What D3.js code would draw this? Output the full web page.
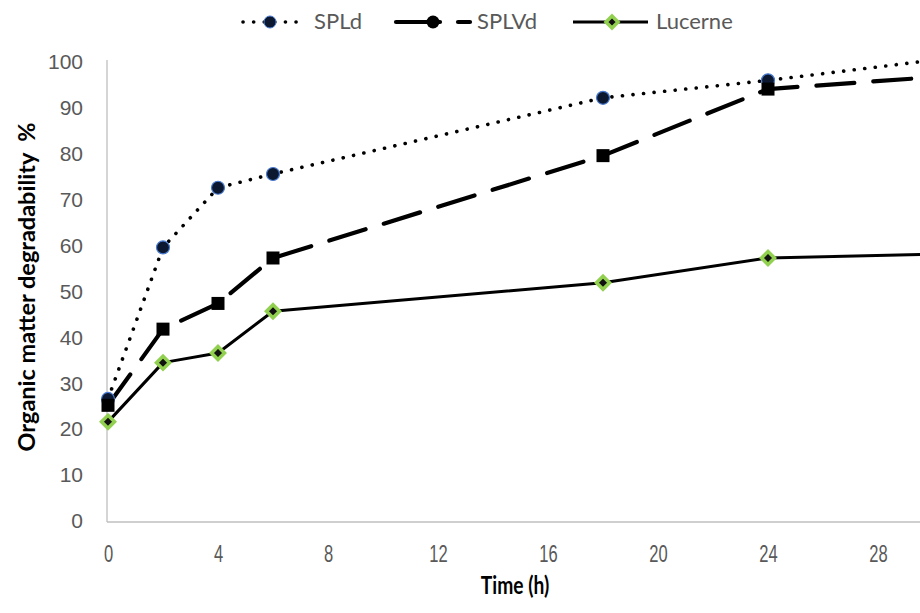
<!DOCTYPE html>
<html>
<head>
<meta charset="utf-8">
<script src="https://cdn.jsdelivr.net/npm/d3@7"></script>
<style>
  body { margin: 0; background: #fff; }
  svg { display: block; font-family: Lato, "Open Sans", sans-serif; }
</style>
</head>
<body>
<script>
// data
const hours = [0, 2, 4, 6, 18, 24, 30]
const spld = [26.6, 59.6, 72.6, 75.6, 92.2, 96.0, 100.4]
const splvd = [25.2, 41.8, 47.4, 57.3, 79.6, 94.1, 96.7]
const lucerne = [21.6, 34.5, 36.6, 45.7, 51.9, 57.3, 58.1]
const xTicks = [0, 4, 8, 12, 16, 20, 24, 28]
const yTicks = [0, 10, 20, 30, 40, 50, 60, 70, 80, 90, 100]

const w = 920, h = 613

const svg = d3.select("body").append("svg")
    .attr("width", w).attr("height", h)

const x = d3.scaleLinear().domain([0, 30]).range([108, 933])
const y = d3.scaleLinear().domain([0, 100]).range([521, 62])

// axes
const xAxis = svg.append("g")
    .attr("transform", "translate(0," + 522 + ")")
    .call(d3.axisBottom(x).tickValues(xTicks).tickSize(0).tickPadding(24))
xAxis.select(".domain").attr("stroke", "#bfbfbf").attr("stroke-width", 1.3)
    .attr("d", "M107,0H920")
xAxis.selectAll("text")
    .attr("fill", "#595959").attr("font-size", 23)
    .attr("transform", "scale(0.72,1)")

const yAxis = svg.append("g")
    .attr("transform", "translate(107,0)")
    .call(d3.axisLeft(y).tickValues(yTicks).tickSize(0).tickPadding(24))
yAxis.select(".domain").attr("stroke", "#bfbfbf").attr("stroke-width", 1.3)
    .attr("d", "M0,60V522")
yAxis.selectAll("text").attr("fill", "#595959").attr("font-size", 21)

// axis titles
svg.append("text")
    .attr("transform", "translate(515,594) scale(0.8,1)")
    .attr("text-anchor", "middle")
    .attr("font-weight", "bold").attr("font-size", 24)
    .text("Time (h)")

svg.append("text")
    .attr("transform", "translate(35,287) rotate(-90)")
    .attr("text-anchor", "middle")
    .attr("font-weight", "bold").attr("font-size", 23.5)
    .style("white-space", "pre")
    .text("Organic matter degradability  %")

// lines
const series = [
  { name: "SPLd", vals: spld, dash: "0.1 10.5", width: 3.6, cap: "round" },
  { name: "SPLVd", vals: splvd, dash: "38 19", width: 4.2, cap: "round" },
  { name: "Lucerne", vals: lucerne, dash: null, width: 3, cap: "butt" }
]

const line = d3.line().x((d, i) => x(hours[i])).y(d => y(d))

svg.selectAll(".series")
    .data(series)
    .enter()
    .append("path")
    .attr("d", d => line(d.vals))
    .attr("fill", "none")
    .attr("stroke", "#000")
    .attr("stroke-width", d => d.width)
    .attr("stroke-dasharray", d => d.dash)
    .attr("stroke-linecap", d => d.cap)
    .attr("stroke-linejoin", "round")

// markers
svg.append("g").selectAll("circle")
    .data(spld)
    .enter()
    .append("circle")
    .attr("cx", (d, i) => x(hours[i]))
    .attr("cy", d => y(d))
    .attr("r", 6.5)
    .attr("fill", "#0c1830")
    .attr("stroke", "#4a7bd0")
    .attr("stroke-width", 1.2)

svg.append("g").selectAll("rect")
    .data(splvd)
    .enter()
    .append("rect")
    .attr("x", (d, i) => x(hours[i]) - 6.5)
    .attr("y", d => y(d) - 6.5)
    .attr("width", 13)
    .attr("height", 13)
    .attr("fill", "#000")

svg.append("g").selectAll("path")
    .data(lucerne)
    .enter()
    .append("path")
    .attr("d", (d, i) => {
      const cx = x(hours[i]), cy = y(d), r = 6.5
      return "M" + cx + "," + (cy - r) + "L" + (cx + r) + "," + cy + "L" + cx + "," + (cy + r) + "L" + (cx - r) + "," + cy + "Z"
    })
    .attr("fill", "#111")
    .attr("stroke", "#92d050")
    .attr("stroke-width", 3.5)

// legend
const leg = svg.append("g")
const ly = 22
leg.append("line").attr("x1", 243).attr("x2", 305).attr("y1", ly).attr("y2", ly)
    .attr("stroke", "#000").attr("stroke-width", 3.6).attr("stroke-dasharray", "0.1 10.5").attr("stroke-linecap", "round")
leg.append("circle").attr("cx", 270).attr("cy", ly).attr("r", 6)
    .attr("fill", "#0c1830").attr("stroke", "#4a7bd0").attr("stroke-width", 1)
leg.append("text").attr("x", 314).attr("y", ly + 7).attr("font-size", 22).attr("fill", "#595959").text("SPLd")

leg.append("line").attr("x1", 396).attr("x2", 440).attr("y1", ly).attr("y2", ly)
    .attr("stroke", "#000").attr("stroke-width", 4.2).attr("stroke-linecap", "round")
leg.append("line").attr("x1", 458).attr("x2", 470).attr("y1", ly).attr("y2", ly)
    .attr("stroke", "#000").attr("stroke-width", 4.2).attr("stroke-linecap", "round")
leg.append("circle").attr("cx", 433).attr("cy", ly).attr("r", 6.5).attr("fill", "#000")
leg.append("text").attr("x", 477).attr("y", ly + 7).attr("font-size", 22).attr("fill", "#595959").text("SPLVd")

leg.append("line").attr("x1", 573).attr("x2", 648).attr("y1", ly).attr("y2", ly)
    .attr("stroke", "#000").attr("stroke-width", 3)
leg.append("path")
    .attr("d", "M612," + (ly - 6) + "L618," + ly + "L612," + (ly + 6) + "L606," + ly + "Z")
    .attr("fill", "#111").attr("stroke", "#92d050").attr("stroke-width", 3.5)
leg.append("text").attr("x", 656).attr("y", ly + 7).attr("font-size", 22).attr("fill", "#595959").text("Lucerne")
</script>
</body>
</html>
